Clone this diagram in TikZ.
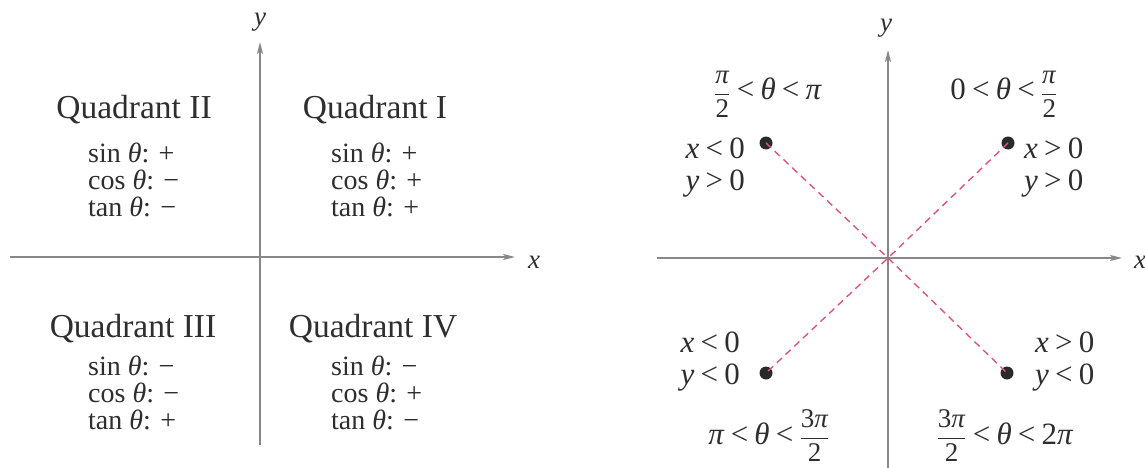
\documentclass[tikz,border=0pt]{standalone}
\usepackage{fontspec}
\usepackage{amsmath}
\setmainfont{Liberation Serif}
\usetikzlibrary{arrows.meta}
\definecolor{txt}{HTML}{2E2E2E}
\definecolor{axisc}{HTML}{888888}
\definecolor{dashc}{HTML}{D9577F}
\definecolor{dotc}{HTML}{2A2A2A}
\newcommand{\thet}{\textit{θ}}
\newcommand{\ppi}{\textit{π}}
\newcommand{\LT}{\hspace{0.2em}<\hspace{0.2em}}
\newcommand{\GT}{\hspace{0.2em}>\hspace{0.2em}}
\newcommand{\myfrac}[2]{\ensuremath{\genfrac{}{}{0.5pt}{0}{\mbox{\fontsize{27}{27}\selectfont #1}}{\mbox{\fontsize{27}{27}\selectfont #2}}}}
\newcommand{\signs}[3]{\begin{tabular}[t]{@{}l@{}}sin \thet: #1\\ cos \thet: #2\\ tan \thet: #3\end{tabular}}
\tikzset{
  axisline/.style={draw=axisc, line width=1.4pt, -{Stealth[length=12pt,width=6pt,inset=3pt]}},
  quadtitle/.style={font=\fontsize{33.5}{33.5}\selectfont, text=txt, inner sep=0pt, anchor=base},
  rowtext/.style={font=\fontsize{28}{25.5}\selectfont, text=txt, inner sep=0pt, anchor=base west},
  condtext/.style={font=\fontsize{31}{31}\selectfont, text=txt, inner sep=0pt},
  axlabel/.style={font=\fontsize{27}{27}\selectfont\itshape, text=txt, inner sep=0pt},
  dashline/.style={draw=dashc, line width=1.4pt, dash pattern=on 7pt off 5pt},
  ptdot/.style={circle, fill=dotc, minimum size=13pt, inner sep=0pt},
}
\begin{document}
\begin{tikzpicture}[x=1pt, y=-1pt]
\useasboundingbox (0,0) rectangle (1145,468);
% ---------- left panel ----------
\coordinate (Lyb) at (260,445);
\coordinate (Lyt) at (260,42);
\coordinate (Lxl) at (10,257);
\coordinate (Lxr) at (515,257);
\draw[axisline] (Lyb) -- (Lyt);
\draw[axisline] (Lxl) -- (Lxr);
\node[axlabel] (Lylab) at (260,22) {y};
\node[axlabel] (Lxlab) at (534,262) {x};

\node[quadtitle] (q2) at (134,118) {Quadrant II};
\node[quadtitle] (q1) at (375,118) {Quadrant I};
\node[quadtitle] (q3) at (133,337) {Quadrant III};
\node[quadtitle] (q4) at (373,337) {Quadrant IV};

\node[rowtext] (q2rows) at (88,162) {\signs{+}{−}{−}};
\node[rowtext] (q1rows) at (331,162) {\signs{+}{+}{+}};
\node[rowtext] (q3rows) at (88,375) {\signs{−}{−}{+}};
\node[rowtext] (q4rows) at (331,375) {\signs{−}{+}{−}};

% ---------- right panel ----------
\coordinate (O) at (888,258);
\coordinate (Ryb) at (888,470);
\coordinate (Ryt) at (888,50);
\coordinate (Rxl) at (657,258);
\coordinate (Rxr) at (1122,258);
\draw[axisline] (Ryb) -- (Ryt);
\draw[axisline] (Rxl) -- (Rxr);
\node[axlabel] (Rylab) at (886,28) {y};
\node[axlabel] (Rxlab) at (1140,262) {x};

\node[ptdot] (p2) at (766,143) {};
\node[ptdot] (p1) at (1008,143) {};
\node[ptdot] (p3) at (766,373) {};
\node[ptdot] (p4) at (1007,373) {};
\draw[dashline] (p2.center) -- (O) -- (p4.center);
\draw[dashline] (p1.center) -- (O) -- (p3.center);

\node[condtext, anchor=base east] (p2x) at (745,158) {\textit{x}\LT 0};
\node[condtext, anchor=base east] (p2y) at (745,190) {\textit{y}\GT 0};
\node[condtext, anchor=base west] (p1x) at (1024,158) {\textit{x}\GT 0};
\node[condtext, anchor=base west] (p1y) at (1024,190) {\textit{y}\GT 0};
\node[condtext, anchor=base east] (p3x) at (740,352) {\textit{x}\LT 0};
\node[condtext, anchor=base east] (p3y) at (740,384) {\textit{y}\LT 0};
\node[condtext, anchor=base west] (p4x) at (1035,352) {\textit{x}\GT 0};
\node[condtext, anchor=base west] (p4y) at (1035,384) {\textit{y}\LT 0};

\node[condtext, anchor=base] (r2) at (768,100) {\myfrac{\ppi}{2}\LT\thet\LT\ppi};
\node[condtext, anchor=base] (r1) at (1004,100) {0\LT\thet\LT\myfrac{\ppi}{2}};
\node[condtext, anchor=base] (r3) at (769,444) {\ppi\LT\thet\LT\myfrac{3\ppi}{2}};
\node[condtext, anchor=base] (r4) at (1005,444) {\myfrac{3\ppi}{2}\LT\thet\LT 2\ppi};
\end{tikzpicture}
\end{document}
